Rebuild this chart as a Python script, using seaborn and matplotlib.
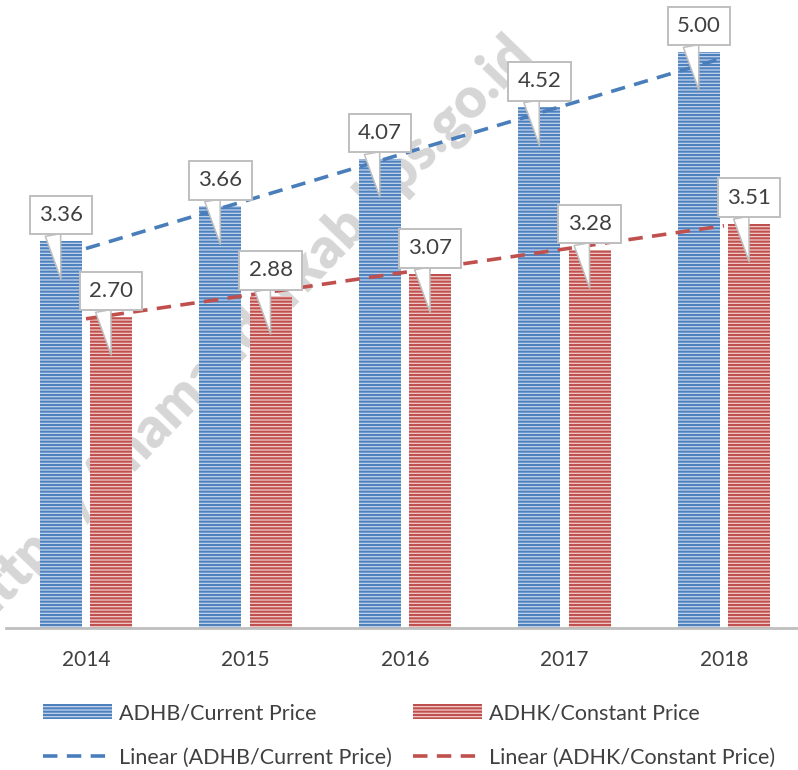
import matplotlib
matplotlib.use("Agg")
import matplotlib.pyplot as plt
import matplotlib.transforms as mtransforms
from matplotlib.lines import Line2D
from matplotlib.patches import Patch
import numpy as np
import pandas as pd
import seaborn as sns

# data
years = ["2014", "2015", "2016", "2017", "2018"]
adhb = [3.36, 3.66, 4.07, 4.52, 5.00]
adhk = [2.70, 2.88, 3.07, 3.28, 3.51]
series_names = ["ADHB/Current Price", "ADHK/Constant Price"]
trend_names = ["Linear (ADHB/Current Price)", "Linear (ADHK/Constant Price)"]
watermark = "https://mamandarkab.bps.go.id"

# colours
stripe_colors = ["#4f81bd", "#c0504d"]
face_colors = ["#c3d4ee", "#f0cccb"]
line_colors = ["#4a7ebb", "#c0504d"]
text_color = "#404040"

sns.set_theme(style="white")
plt.rcParams["font.family"] = ["Lato", "DejaVu Sans"]
plt.rcParams["hatch.linewidth"] = 1.5

df = pd.DataFrame({
    "Tahun": years * 2,
    "Seri": [series_names[0]] * len(years) + [series_names[1]] * len(years),
    "Nilai": adhb + adhk,
})

fig = plt.figure(figsize=(7.98, 7.70), dpi=100)
ax = fig.add_axes([6.25 / 798, 1 - 628 / 770, 797.5 / 798, 628 / 770])

# watermark behind the bars
ax.text(0.31, 0.572, watermark, transform=fig.transFigure, rotation=46,
        rotation_mode="anchor", ha="center", va="center", fontsize=40,
        fontweight="heavy", color="#d6d6d6", zorder=0.5)

sns.barplot(data=df, x="Tahun", y="Nilai", hue="Seri", hue_order=series_names,
            palette=face_colors, width=0.63, gap=0.16, errorbar=None,
            legend=False, ax=ax, zorder=2)

for cont, sc, fc in zip(ax.containers, stripe_colors, face_colors):
    for bar in cont:
        bar.set_facecolor(fc)
        bar.set_edgecolor(sc)
        bar.set_linewidth(0)
        bar.set_hatch("-----")

# linear trend lines (Excel style, from first to last category)
xpos = np.arange(len(years))
for vals, lc in zip([adhb, adhk], line_colors):
    sns.regplot(x=xpos, y=np.array(vals), scatter=False, ci=None, truncate=True,
                ax=ax, line_kws=dict(color=lc, lw=2.6, ls=(0, (4.0, 2.6)), zorder=3))

# callout labels
for cont, vals in zip(ax.containers, [adhb, adhk]):
    for bar, v in zip(cont, vals):
        xc = bar.get_x() + bar.get_width() / 2
        tip = mtransforms.offset_copy(ax.transData, fig=fig, y=-38, units="dots")
        ax.annotate(f"{v:.2f}", xy=(xc, v), xycoords=tip,
                    xytext=(0, 64), textcoords="offset pixels",
                    ha="center", va="center", fontsize=16, color=text_color,
                    zorder=5,
                    bbox=dict(boxstyle="square,pad=0.42", fc="white",
                              ec="#bfbfbf", lw=1.4),
                    arrowprops=dict(arrowstyle="wedge,tail_width=0.7",
                                    fc="white", ec="#bfbfbf", lw=1.1,
                                    relpos=(0.28, 0.0), shrinkA=0, shrinkB=0))

ax.set_xlim(-0.5, 4.5)
ax.set_ylim(0, 628 / 115.2)
ax.set_xlabel("")
ax.set_ylabel("")
ax.set_yticks([])
ax.tick_params(axis="x", length=0, pad=16, labelsize=15, labelcolor=text_color)
for side in ["left", "right", "top"]:
    ax.spines[side].set_visible(False)
ax.spines["bottom"].set_color("#bfbfbf")
ax.spines["bottom"].set_linewidth(2)
ax.spines["bottom"].set_zorder(4)

handles = [
    Patch(facecolor=face_colors[0], edgecolor=stripe_colors[0], lw=0, hatch="-----"),
    Line2D([], [], color=line_colors[0], lw=2.6, ls=(0, (4.0, 2.6))),
    Patch(facecolor=face_colors[1], edgecolor=stripe_colors[1], lw=0, hatch="-----"),
    Line2D([], [], color=line_colors[1], lw=2.6, ls=(0, (4.0, 2.6))),
]
labels = [series_names[0], trend_names[0], series_names[1], trend_names[1]]
fig.legend(handles, labels, ncol=2, loc="upper left",
           bbox_to_anchor=(43 / 798, 1 - 703 / 770), frameon=False,
           borderpad=0, borderaxespad=0, fontsize=15.5, labelcolor=text_color,
           handlelength=3.2, handleheight=0.7, handletextpad=0.33,
           columnspacing=1.0, labelspacing=1.15)

fig.savefig("out.png", dpi=100)
